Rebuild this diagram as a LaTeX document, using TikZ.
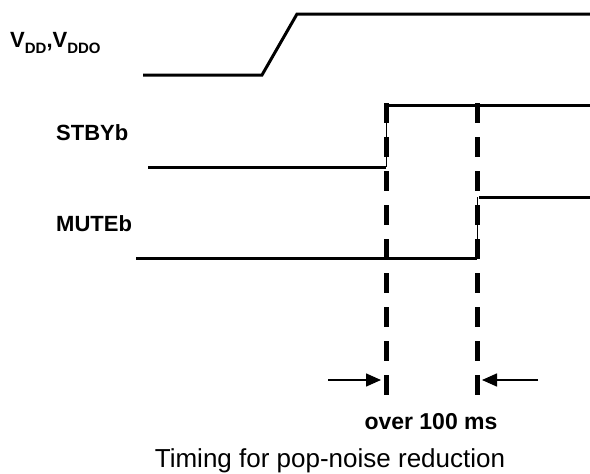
\documentclass[tikz,border=0pt]{standalone}
\usepackage{fontspec}
\setmainfont{Liberation Sans}
\usetikzlibrary{arrows.meta}
\begin{document}
\begin{tikzpicture}[x=1pt,y=-1pt,
  sig/.style={line width=3pt},
  rise/.style={line width=1pt},
  guide/.style={line width=5pt,dash pattern=on 20pt off 14pt},
  dimarrow/.style={line width=1.5pt,-{Triangle[length=15pt,width=13pt]}},
  lbl/.style={font=\fontsize{22}{26}\selectfont\bfseries,inner sep=0pt,anchor=base west},
  capt/.style={font=\fontsize{26}{30}\selectfont,inner sep=0pt,anchor=base},
  dimlbl/.style={font=\fontsize{23}{27}\selectfont\bfseries,inner sep=0pt,anchor=base}]
\useasboundingbox (0,0) rectangle (590,474);
% coordinates
\coordinate (v0) at (143,75);
\coordinate (v1) at (262,75);
\coordinate (v2) at (297,14);
\coordinate (v3) at (590,14);
\coordinate (s0) at (148,167);
\coordinate (s1) at (386,167);
\coordinate (s2) at (386,105);
\coordinate (s3) at (590,105);
\coordinate (m0) at (136,258);
\coordinate (m1) at (477,258);
\coordinate (m2) at (477,197);
\coordinate (m2b) at (479,197);
\coordinate (m3) at (590,197);
\coordinate (d1t) at (386,103);
\coordinate (d1b) at (386,395);
\coordinate (d2t) at (477,103);
\coordinate (d2b) at (477,395);
\coordinate (a1s) at (328,380);
\coordinate (a1e) at (381,380);
\coordinate (a2s) at (538,380);
\coordinate (a2e) at (482,380);
% labels
\node[lbl] (vdd) at (10,47) {V\raisebox{-0.28em}{\fontsize{15}{15}\selectfont DD},V\raisebox{-0.28em}{\fontsize{15}{15}\selectfont DDO}};
\node[lbl] (stby) at (56,140) {STBYb};
\node[lbl] (mute) at (56,231) {MUTEb};
% waveforms
\draw[sig,line join=miter] (v0) -- (v1) -- (v2) -- (v3);
\draw[sig] (s0) -- (s1);
\draw[rise] (s1) -- (s2);
\draw[sig] ([xshift=-0.5pt]s2) -- (s3);
\draw[sig] (m0) -- (m1);
\draw[rise] (m1) -- (m2);
\draw[sig] (m2b) -- (m3);
% guides
\draw[guide] (d1t) -- (d1b);
\draw[guide] (d2t) -- (d2b);
% dimension arrows
\draw[dimarrow] (a1s) -- (a1e);
\draw[dimarrow] (a2s) -- (a2e);
\node[dimlbl] (dim) at (431,429) {over 100 ms};
\node[capt] (cap) at (330,467) {Timing for pop-noise reduction};
\end{tikzpicture}
\end{document}
